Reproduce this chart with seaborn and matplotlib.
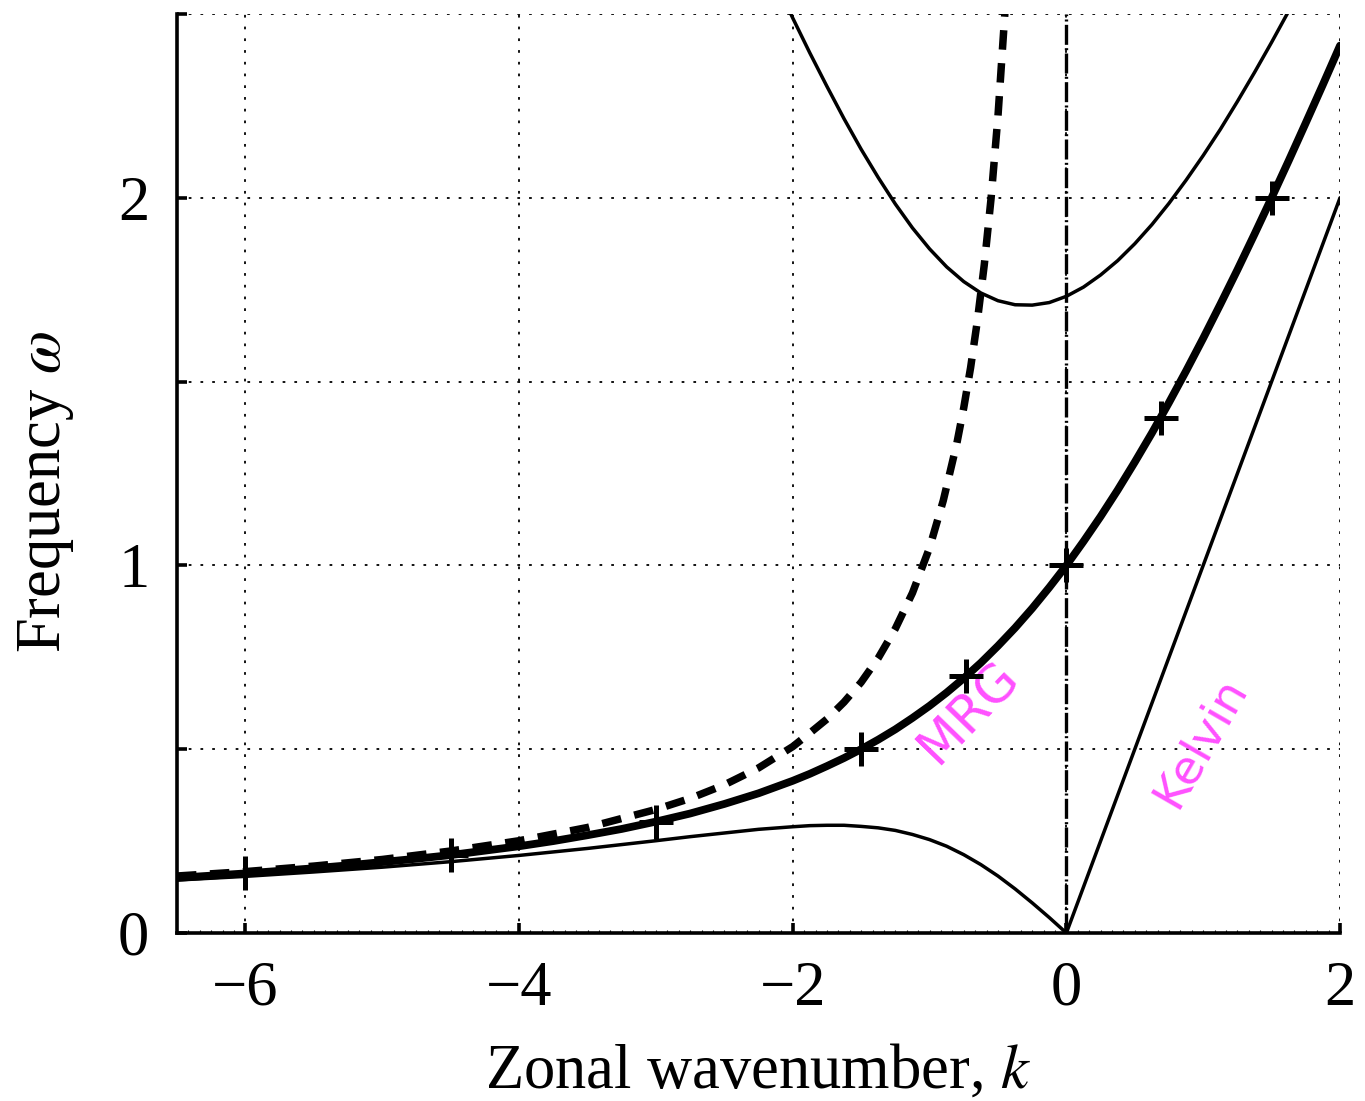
import matplotlib
matplotlib.use("Agg")
import matplotlib.pyplot as plt
from matplotlib.ticker import MultipleLocator, FixedLocator
import seaborn as sns

# thick solid curve (MRG)
k_mrg = [-6.5, -6.25, -6.0, -5.75, -5.5, -5.25, -5.0, -4.75, -4.5, -4.25, -4.0,
         -3.75, -3.5, -3.25, -3.0, -2.75, -2.5, -2.25, -2.0, -1.875, -1.75, -1.625,
         -1.5, -1.375, -1.25, -1.125, -1.0, -0.875, -0.75, -0.625, -0.5, -0.375,
         -0.25, -0.125, 0.0, 0.125, 0.25, 0.375, 0.5, 0.625, 0.75, 0.875, 1.0,
         1.125, 1.25, 1.375, 1.5, 1.625, 1.75, 1.875, 2.0]
w_mrg = [0.150, 0.156, 0.162, 0.169, 0.176, 0.184, 0.193, 0.202, 0.212, 0.224, 0.236,
         0.250, 0.266, 0.283, 0.303, 0.325, 0.351, 0.380, 0.414, 0.433, 0.454, 0.476,
         0.500, 0.526, 0.554, 0.585, 0.618, 0.654, 0.693, 0.735, 0.781, 0.830,
         0.883, 0.940, 1.000, 1.065, 1.133, 1.205, 1.281, 1.360, 1.443, 1.529, 1.618,
         1.710, 1.804, 1.901, 2.000, 2.101, 2.204, 2.308, 2.414]

# crosses on the MRG curve
k_mark = [-6.0, -4.5, -3.0, -1.5, -0.73, 0.0, 0.69, 1.5]
w_mark = [0.162, 0.212, 0.303, 0.500, 0.700, 1.000, 1.400, 2.000]

# dashed curve (low frequency approximation)
k_dash = [-6.5, -6.0, -5.5, -5.0, -4.5, -4.0, -3.5, -3.0, -2.75, -2.5, -2.25, -2.0,
          -1.875, -1.75, -1.625, -1.5, -1.375, -1.25, -1.125, -1.0, -0.9, -0.8, -0.75,
          -0.7, -0.65, -0.6, -0.55, -0.5, -0.45, -0.43]
w_dash = [0.155, 0.167, 0.182, 0.200, 0.223, 0.251, 0.287, 0.336, 0.366, 0.403, 0.449, 0.507,
          0.544, 0.582, 0.628, 0.682, 0.748, 0.828, 0.925, 1.048, 1.176, 1.333, 1.429,
          1.538, 1.667, 1.818, 2.000, 2.222, 2.500, 2.632]

# thin lower curve (Rossby n=1)
k_ross = [-6.5, -6.0, -5.5, -5.0, -4.5, -4.0, -3.5, -3.0, -2.75, -2.5, -2.25, -2.0,
          -1.875, -1.75, -1.625, -1.5, -1.375, -1.25, -1.125, -1.0, -0.875, -0.75,
          -0.625, -0.5, -0.375, -0.25, -0.125, 0.0]
w_ross = [0.144, 0.154, 0.166, 0.179, 0.194, 0.211, 0.230, 0.251, 0.262, 0.272, 0.282, 0.289,
          0.292, 0.293, 0.293, 0.290, 0.286, 0.279, 0.268, 0.254, 0.236, 0.213,
          0.186, 0.155, 0.120, 0.082, 0.042, 0.0]

# thin upper curve (inertia-gravity n=1)
k_ig = [-2.1, -2.0, -1.875, -1.75, -1.625, -1.5, -1.375, -1.25, -1.125, -1.0, -0.875,
        -0.75, -0.625, -0.5, -0.375, -0.25, -0.125, 0.0, 0.125, 0.25, 0.375, 0.5,
        0.625, 0.75, 0.875, 1.0, 1.125, 1.25, 1.375, 1.5, 1.625, 1.75]
w_ig = [2.568, 2.489, 2.394, 2.303, 2.215, 2.132, 2.055, 1.983, 1.918, 1.861, 1.812,
        1.772, 1.741, 1.720, 1.709, 1.708, 1.715, 1.732, 1.757, 1.790, 1.829, 1.875,
        1.927, 1.985, 2.048, 2.115, 2.186, 2.262, 2.341, 2.423, 2.508, 2.596]

# Kelvin wave
k_kel = [0.0, 2.0]
w_kel = [0.0, 2.0]

sns.set_style("ticks")
plt.rcParams["font.family"] = ["Liberation Serif", "DejaVu Serif"]
plt.rcParams["mathtext.fontset"] = "stix"
for key in ["text.color", "axes.labelcolor", "xtick.color", "ytick.color", "axes.edgecolor"]:
    plt.rcParams[key] = "black"

fig, ax = plt.subplots(figsize=(13.65, 11.01), dpi=100)
fig.subplots_adjust(left=0.1297, right=0.9817, top=0.9873, bottom=0.1526)

ax.grid(True, color="black", linewidth=1.3, linestyle=(0, (1.5, 5.0)), zorder=0)
ax.set_axisbelow(True)

ax.axvline(0, color="black", lw=2.4, linestyle=(0, (6.0, 1.0, 0.6, 1.0)), zorder=2)

sns.lineplot(x=k_ross, y=w_ross, ax=ax, color="black", lw=2.5)
sns.lineplot(x=k_ig, y=w_ig, ax=ax, color="black", lw=2.5)
sns.lineplot(x=k_kel, y=w_kel, ax=ax, color="black", lw=2.5)
sns.lineplot(x=k_dash, y=w_dash, ax=ax, color="black", lw=5.4, linestyle=(0, (2.6, 1.8)))
sns.lineplot(x=k_mrg, y=w_mrg, ax=ax, color="black", lw=5.6)
ax.plot(k_mark, w_mark, ls="none", marker="+", ms=24, mew=3.6, color="black", zorder=5)

ax.text(-0.71, 0.60, "MRG", rotation=46, color="#ff50ff", fontsize=37,
        family="DejaVu Sans", ha="center", va="center", rotation_mode="anchor")
ax.text(0.98, 0.52, "Kelvin", rotation=60, color="#ff50ff", fontsize=34,
        family="DejaVu Sans", ha="center", va="center", rotation_mode="anchor")

ax.set_xlim(-6.5, 2)
ax.set_ylim(0, 2.5)
ax.xaxis.set_major_locator(FixedLocator([-6, -4, -2, 0, 2]))
ax.xaxis.set_minor_locator(MultipleLocator(1 / 12))
ax.yaxis.set_major_locator(FixedLocator([0, 0.5, 1, 1.5, 2, 2.5]))
ax.set_yticklabels(["0", "", "1", "", "2", ""])

for s in ["top", "right"]:
    ax.spines[s].set_visible(False)
for s in ["left", "bottom"]:
    ax.spines[s].set_linewidth(2.6)

ax.tick_params(axis="both", which="major", direction="in", length=7, width=2.6,
               labelsize=45, pad=20)
ax.tick_params(axis="x", which="minor", direction="in", length=2.5, width=0.8)
ax.tick_params(axis="y", which="minor", left=False)

ax.set_xlabel("Zonal wavenumber, $k$", fontsize=45, labelpad=18)
ax.set_ylabel("Frequency $\\omega$", fontsize=45)
ax.yaxis.set_label_coords(-0.087, 0.48)

plt.savefig("out.png", dpi=100)
